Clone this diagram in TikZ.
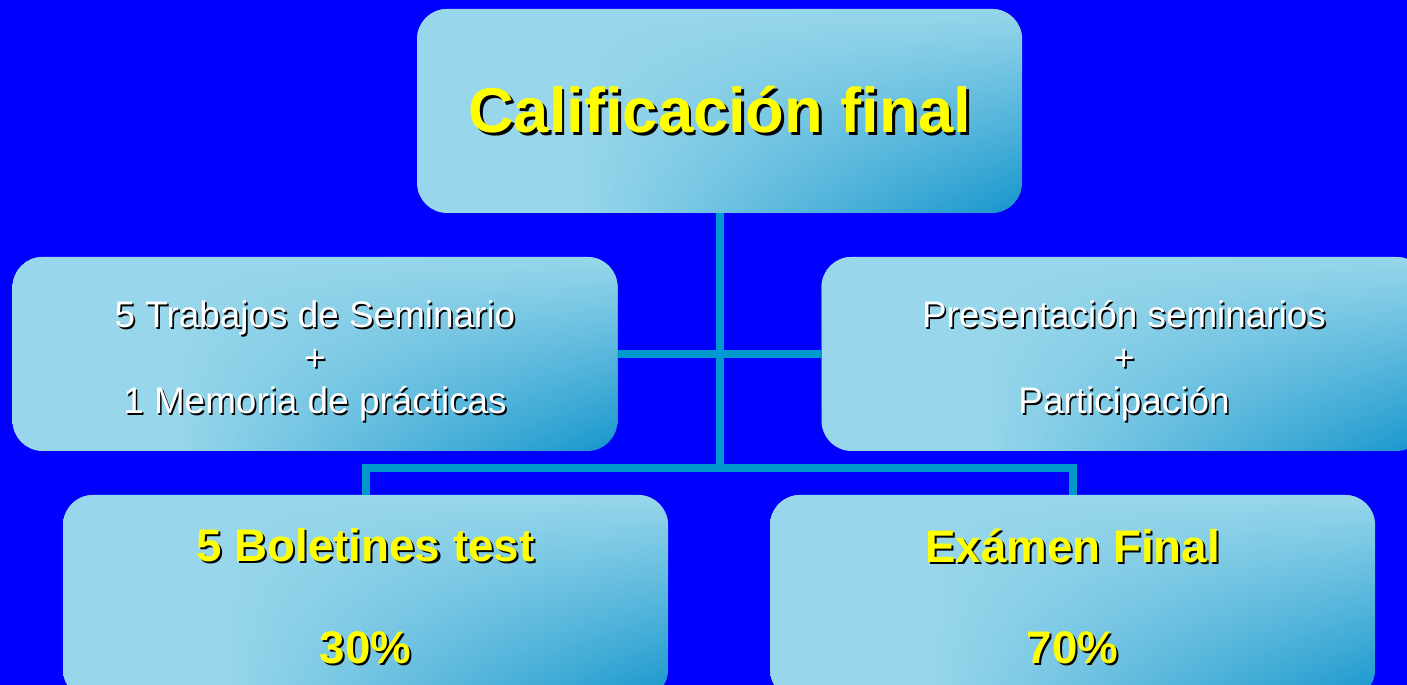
\documentclass[tikz,border=0pt]{standalone}
\usepackage{fontspec}
\setmainfont{Liberation Sans}
\usetikzlibrary{positioning, fadings, calc}

\definecolor{slideblue}{RGB}{0,0,255}
\definecolor{boxlight}{RGB}{152,215,235}
\definecolor{boxdark}{RGB}{22,150,205}
\definecolor{linkteal}{RGB}{0,153,204}
\definecolor{gradeyellow}{RGB}{255,255,0}

\pgfdeclarehorizontalshading{boxshade}{100bp}{color(0bp)=(boxlight); color(25bp)=(boxlight); color(38bp)=(boxlight); color(75bp)=(boxdark); color(100bp)=(boxdark)}
\tikzfading[name=topfade, top color=transparent!0, middle color=transparent!30, bottom color=transparent!100]

% text with a small black drop shadow
\newcommand{\shad}[1]{\makebox[0pt][l]{\hspace{0.045em}\raisebox{-0.045em}{\color{black}#1}}#1}

\tikzset{
  gradebox/.style={rounded corners=0.6cm, preaction={shade, shading=boxshade},
    fill=boxlight, path fading=topfade, minimum width=12.1cm, align=center, inner sep=0pt},
  titletext/.style={font=\fontsize{36}{43}\selectfont\bfseries, text=gradeyellow},
  midtext/.style={font=\fontsize{21}{24.5}\selectfont, text=white},
  bottext/.style={font=\fontsize{26}{31}\selectfont\bfseries, text=gradeyellow},
  link/.style={draw=linkteal, line width=0.16cm}
}

\begin{document}
\begin{tikzpicture}[x=0.02cm, y=0.02cm]
  % slide background
  \clip (0,0) rectangle (1407,685);
  \fill[slideblue] (0,0) rectangle (1407,685);

  % top box
  \node[gradebox, minimum height=4.08cm, titletext] (final) at (719.5,574) {\shad{Calificación final}};

  % middle boxes
  \node[gradebox, minimum height=3.88cm, midtext] (works) at (315,331)
    {\rule{0pt}{1.15em}\shad{5 Trabajos de Seminario}\\ \shad{+}\\ \shad{1 Memoria de prácticas}};
  \node[gradebox, minimum height=3.88cm, midtext] (talks) at (1124,331)
    {\rule{0pt}{1.15em}\shad{Presentación seminarios}\\ \shad{+}\\ \shad{Participación}};

  % bottom boxes
  \node[gradebox, minimum height=4.1cm, bottext] (tests) at (365.5,87.5)
    {\shad{5 Boletines test}\\[27pt] \shad{30\%}};
  \node[gradebox, minimum height=4.1cm, bottext] (exam) at (1072.5,87.5)
    {\shad{Exámen Final}\\[27pt] \shad{70\%}};

  % connectors
  \coordinate (split) at (final.south |- 0,217);
  \draw[link] (final.south) -- (split);
  \draw[link] (works.east) -- (talks.west);
  \draw[link] (tests.north) -- (tests.north |- split) -- (exam.north |- split) -- (exam.north);
\end{tikzpicture}
\end{document}
